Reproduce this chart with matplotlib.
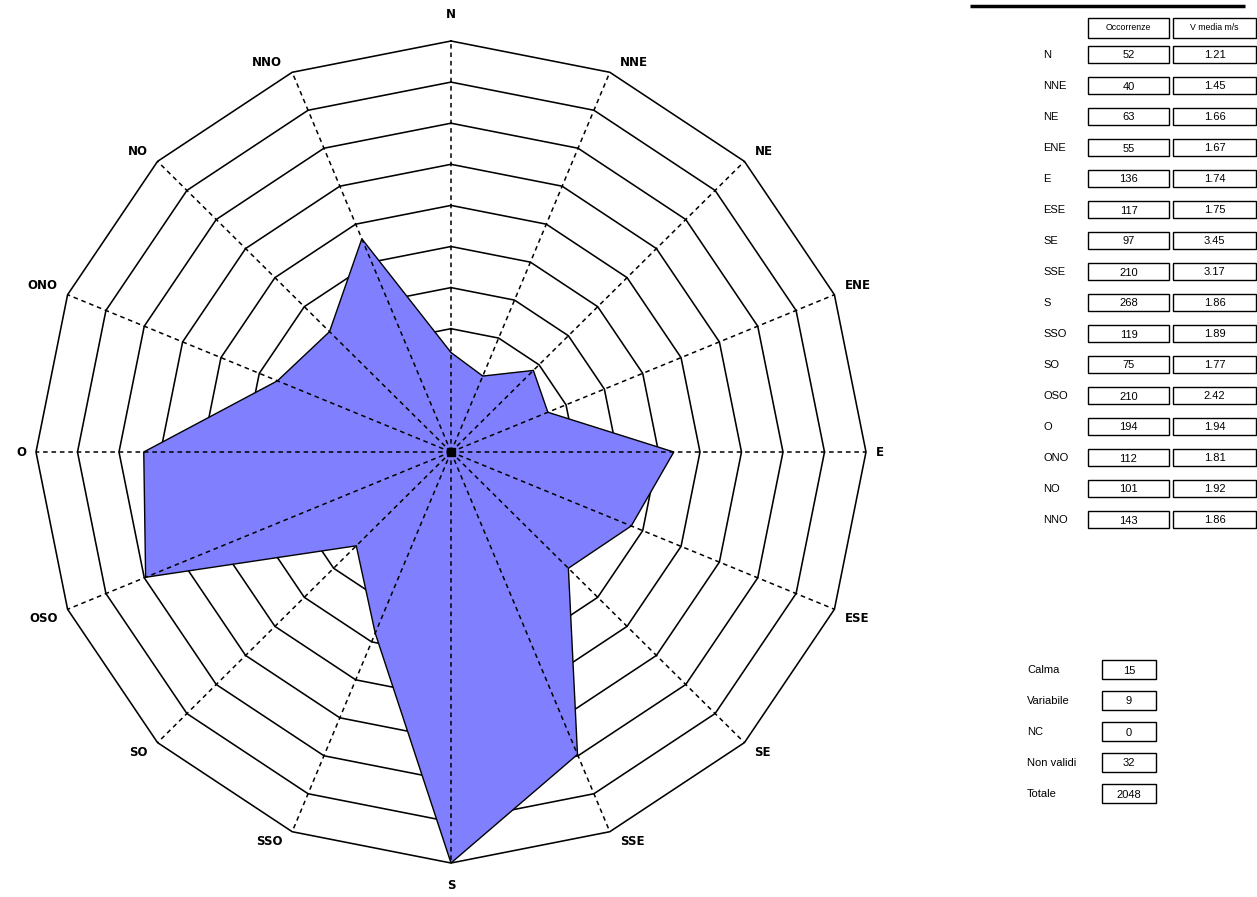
import numpy as np
import matplotlib
matplotlib.use("Agg")
import matplotlib.pyplot as plt
from matplotlib.patches import Rectangle, Polygon

directions = ["N", "NNE", "NE", "ENE", "E", "ESE", "SE", "SSE",
              "S", "SSO", "SO", "OSO", "O", "ONO", "NO", "NNO"]
occorrenze = [52, 40, 63, 55, 136, 117, 97, 210, 268, 119, 75, 210, 194, 112, 101, 143]
v_media = ["1.21", "1.45", "1.66", "1.67", "1.74", "1.75", "3.45", "3.17",
           "1.86", "1.89", "1.77", "2.42", "1.94", "1.81", "1.92", "1.86"]
extra_labels = ["Calma", "Variabile", "NC", "Non validi", "Totale"]
extra_values = [15, 9, 0, 32, 2048]
n_rings = 10
r_lo, r_hi = -17, 268   # radial axis range of the original chart

W, H = 1257, 897
fig = plt.figure(figsize=(W / 100, H / 100), dpi=100)
PX = 72.0 / 100  # points per pixel

# ---- rose axes ----
span = r_hi - r_lo
cx, cy = 451, H - 452
half = 450
ax = fig.add_axes([(cx - half) / W, (cy - half) / H, 2 * half / W, 2 * half / H])
ax.set_xlim(-span * half / 415, span * half / 415)
ax.set_ylim(-span * half / 411, span * half / 411)
ax.axis("off")

theta = np.deg2rad(np.arange(len(directions)) * 360.0 / len(directions))
sx, sy = np.sin(theta), np.cos(theta)

for k in range(1, n_rings + 1):
    r = span * k / n_rings
    xs = np.append(r * sx, r * sx[0])
    ys = np.append(r * sy, r * sy[0])
    ax.plot(xs, ys, color="black", lw=1.15, zorder=1, solid_joinstyle="miter")

vals = np.array(occorrenze, dtype=float) - r_lo
poly = Polygon(np.column_stack([vals * sx, vals * sy]), closed=True,
               facecolor="#8080FF", edgecolor="black", lw=1.0, zorder=2)
ax.add_patch(poly)

for i in range(len(directions)):
    ax.plot([0, span * sx[i]], [0, span * sy[i]], color="black", lw=1.1,
            dashes=(3, 2.5), zorder=3)

ax.plot([0], [0], marker="s", ms=6, color="black", zorder=4)

for i, d in enumerate(directions):
    if sx[i] > 0.01:
        ha, dx = "left", 10
    elif sx[i] < -0.01:
        ha, dx = "right", -10
    else:
        ha, dx = "center", 0
    if abs(sx[i]) < 0.01:
        va, dy = ("bottom", 20) if sy[i] > 0 else ("top", -16)
    elif sy[i] > 0.01:
        va, dy = "bottom", 3
    elif sy[i] < -0.01:
        va, dy = "top", -3
    else:
        va, dy = "center", 0
    ax.annotate(d, (span * sx[i], span * sy[i]), xytext=(dx * PX, dy * PX),
                textcoords="offset points", ha=ha, va=va,
                fontsize=8.5, fontweight="bold", family="DejaVu Sans", zorder=5)

# ---- tables (pixel coordinates) ----
tx = fig.add_axes([0, 0, 1, 1])
tx.set_xlim(0, W)
tx.set_ylim(H, 0)
tx.axis("off")

tx.plot([970, 1245], [6, 6], color="black", lw=2.5, solid_capstyle="butt")

font = dict(family="Liberation Sans", color="black")
# header
tx.add_patch(Rectangle((1088, 18), 81, 20, fill=False, ec="black", lw=1.0))
tx.add_patch(Rectangle((1173, 18), 83, 20, fill=False, ec="black", lw=1.0))
tx.text(1128.5, 28, "Occorrenze", ha="center", va="center", fontsize=6.3, **font)
tx.text(1214.5, 28, "V media m/s", ha="center", va="center", fontsize=6.3, **font)

row_y0, pitch = 55, 31.0
for i, d in enumerate(directions):
    y = row_y0 + i * pitch
    tx.text(1043, y, d, ha="left", va="center", fontsize=8, **font)
    tx.add_patch(Rectangle((1088, y - 8.5), 81, 17, fill=False, ec="black", lw=1.0))
    tx.add_patch(Rectangle((1173, y - 8.5), 83, 17, fill=False, ec="black", lw=1.0))
    tx.text(1128.5, y + 0.5, str(occorrenze[i]), ha="center", va="center", fontsize=8, **font)
    tx.text(1214.5, y, v_media[i], ha="center", va="center", fontsize=8, **font)

ey0, epitch = 670, 31.0
for i, lab in enumerate(extra_labels):
    y = ey0 + i * epitch
    tx.text(1027, y, lab, ha="left", va="center", fontsize=8, **font)
    tx.add_patch(Rectangle((1102, y - 9.5), 54, 19, fill=False, ec="black", lw=1.0))
    tx.text(1129, y + 0.5, str(extra_values[i]), ha="center", va="center", fontsize=8, **font)

fig.savefig("out.png", dpi=100)
